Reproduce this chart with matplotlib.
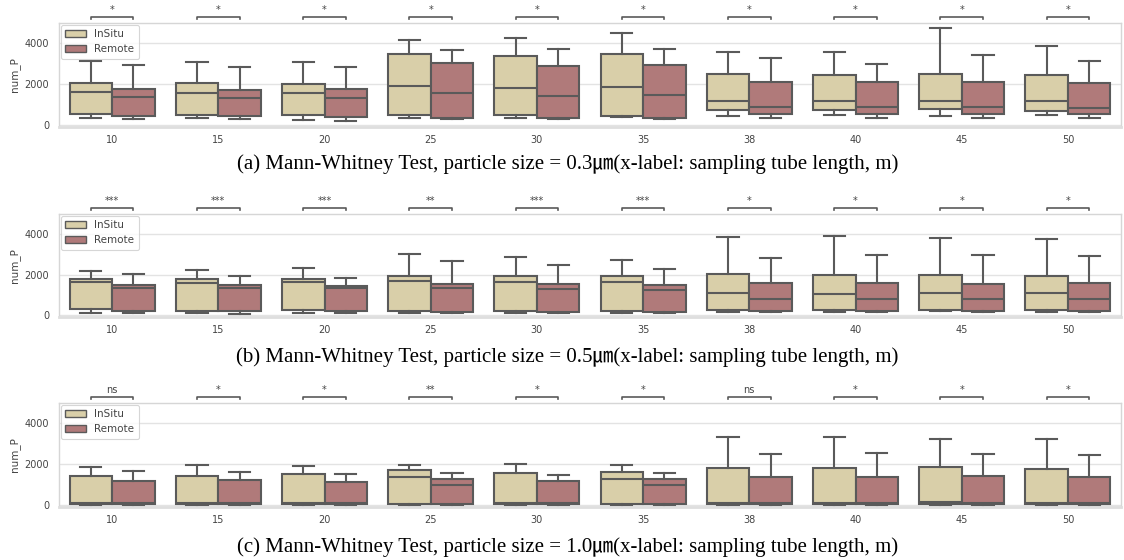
import matplotlib
matplotlib.use('Agg')
import matplotlib.pyplot as plt
import matplotlib.transforms as mtransforms
from matplotlib.patches import Patch

categories = ['10', '15', '20', '25', '30', '35', '38', '40', '45', '50']
hues = ['InSitu', 'Remote']

# each entry: (whislo, q1, median, q3, whishi)
a_insitu = [(360, 520, 1620, 2040, 3130), (360, 490, 1570, 2040, 3090), (250, 510, 1570, 1990, 3090),
            (360, 470, 1910, 3460, 4160), (360, 470, 1800, 3400, 4260), (410, 440, 1850, 3460, 4510),
            (440, 720, 1160, 2500, 3590), (470, 720, 1160, 2470, 3560), (440, 780, 1160, 2520, 4740),
            (490, 670, 1160, 2470, 3890)]
a_remote = [(280, 430, 1370, 1750, 2940), (290, 430, 1340, 1720, 2860), (210, 380, 1340, 1750, 2860),
            (280, 330, 1570, 3040, 3670), (280, 330, 1420, 2890, 3720), (290, 330, 1470, 2920, 3720),
            (360, 520, 870, 2110, 3270), (360, 520, 870, 2110, 2990), (360, 520, 870, 2090, 3410),
            (360, 520, 820, 2040, 3140)]
b_insitu = [(80, 300, 1650, 1800, 2180), (80, 220, 1600, 1800, 2250), (80, 250, 1620, 1800, 2330),
            (80, 200, 1690, 1930, 3030), (80, 200, 1620, 1930, 2890), (80, 200, 1620, 1950, 2740),
            (130, 250, 1070, 2020, 3840), (150, 250, 1030, 1980, 3920), (180, 250, 1070, 1980, 3820),
            (150, 250, 1070, 1950, 3740)]
b_remote = [(80, 200, 1320, 1500, 2030), (70, 200, 1320, 1490, 1950), (80, 200, 1320, 1440, 1850),
            (100, 150, 1340, 1520, 2650), (100, 150, 1270, 1520, 2460), (100, 150, 1240, 1470, 2270),
            (150, 200, 780, 1570, 2840), (150, 200, 780, 1570, 2980), (150, 200, 780, 1520, 2980),
            (150, 200, 780, 1570, 2930)]
c_insitu = [(20, 60, 90, 1430, 1860), (20, 60, 90, 1430, 1960), (20, 60, 90, 1500, 1910),
            (20, 60, 1370, 1700, 1960), (20, 60, 90, 1550, 2010), (20, 60, 1280, 1600, 1960),
            (20, 50, 115, 1830, 3330), (20, 50, 115, 1790, 3330), (20, 50, 150, 1880, 3230),
            (20, 50, 115, 1750, 3230)]
c_remote = [(20, 60, 80, 1170, 1650), (20, 60, 80, 1220, 1600), (20, 60, 80, 1120, 1510),
            (20, 60, 990, 1270, 1550), (20, 60, 80, 1170, 1450), (20, 60, 970, 1270, 1550),
            (20, 60, 80, 1350, 2490), (20, 60, 80, 1350, 2540), (20, 60, 80, 1400, 2490),
            (20, 60, 80, 1350, 2440)]

sig_a = ['*', '*', '*', '*', '*', '*', '*', '*', '*', '*']
sig_b = ['***', '***', '***', '**', '***', '***', '*', '*', '*', '*']
sig_c = ['ns', '*', '*', '**', '*', '*', 'ns', '*', '*', '*']

captions = [
    '(a) Mann-Whitney Test, particle size = 0.3\u339b(x-label: sampling tube length, m)',
    '(b) Mann-Whitney Test, particle size = 0.5\u339b(x-label: sampling tube length, m)',
    '(c) Mann-Whitney Test, particle size = 1.0\u339b(x-label: sampling tube length, m)',
]
y_ticks = [0, 2000, 4000]

panels = [(a_insitu, a_remote, sig_a), (b_insitu, b_remote, sig_b), (c_insitu, c_remote, sig_c)]

col_insitu = '#d9cfa9'
col_remote = '#b07a7a'
edge = '#5a5a5a'
grid_col = '#e3e3e3'
text_col = '#444444'

W, H = 1124, 560
fig = plt.figure(figsize=(W / 100, H / 100), dpi=100)

# axes pixel boxes: (top, bottom)
ax_boxes = [(23, 127), (214, 317), (403, 507)]
left_px, right_px = 59, 1121
cap_y_px = [164, 357, 547]


def to_stats(rows):
    return [dict(whislo=r[0], q1=r[1], med=r[2], q3=r[3], whishi=r[4], fliers=[]) for r in rows]


for (ins, rem, sig), (top, bot), cap, cy in zip(panels, ax_boxes, captions, cap_y_px):
    ax = fig.add_axes([left_px / W, 1 - bot / H, (right_px - left_px) / W, (bot - top) / H])
    ax.set_facecolor('white')
    n = len(categories)
    for rows, off, col in ((ins, -0.2, col_insitu), (rem, 0.2, col_remote)):
        ax.bxp(to_stats(rows), positions=[i + off for i in range(n)], widths=0.4, capwidths=0.2,
               patch_artist=True, showfliers=False,
               boxprops=dict(facecolor=col, edgecolor=edge, linewidth=1.5),
               medianprops=dict(color=edge, linewidth=1.5),
               whiskerprops=dict(color=edge, linewidth=1.5),
               capprops=dict(color=edge, linewidth=1.5), zorder=3)
    ax.set_xlim(-0.5, n - 0.5)
    ax.set_ylim(-100, 5000)
    ax.set_xticks(range(n))
    ax.set_xticklabels(categories)
    ax.set_yticks(y_ticks)
    ax.tick_params(axis='both', length=0, labelsize=7, labelcolor=text_col)
    ax.tick_params(axis='x', pad=6)
    ax.tick_params(axis='y', pad=7)
    ax.grid(axis='y', color=grid_col, linewidth=1.0, zorder=0)
    ax.grid(axis='x', visible=False)
    ax.set_axisbelow(True)
    for s in ax.spines.values():
        s.set_color('#d6d6d6')
        s.set_linewidth(1.0)
    ax.spines['bottom'].set_linewidth(2.0)
    ax.spines['bottom'].set_color('#dedede')
    ax.set_ylabel('num_P', fontsize=7.5, color=text_col)
    ax.yaxis.set_label_coords(-0.037, 0.5)

    trans = mtransforms.blended_transform_factory(ax.transData, ax.transAxes)
    for i, s in enumerate(sig):
        x0, x1 = i - 0.2, i + 0.2
        ax.plot([x0, x0, x1, x1], [1.035, 1.055, 1.055, 1.035], transform=trans, color=edge,
                linewidth=1.2, clip_on=False)
        ax.text(i, 1.095, s, transform=trans, ha='center', va='baseline', fontsize=7, color=text_col)

    handles = [Patch(facecolor=col_insitu, edgecolor=edge, linewidth=1.0),
               Patch(facecolor=col_remote, edgecolor=edge, linewidth=1.0)]
    leg = ax.legend(handles, hues, loc='upper left', fontsize=7.5, frameon=True, borderaxespad=0.2,
                    fancybox=True)
    leg.get_frame().set_edgecolor('#cccccc')
    leg.get_frame().set_linewidth(0.8)
    for t in leg.get_texts():
        t.set_color(text_col)

    fig.text(0.505, 1 - cy / H, cap, ha='center', va='center', fontsize=15,
             family=['Liberation Serif', 'Noto Sans CJK KR'], color='black')

fig.savefig('out.png', dpi=100, facecolor='white')
